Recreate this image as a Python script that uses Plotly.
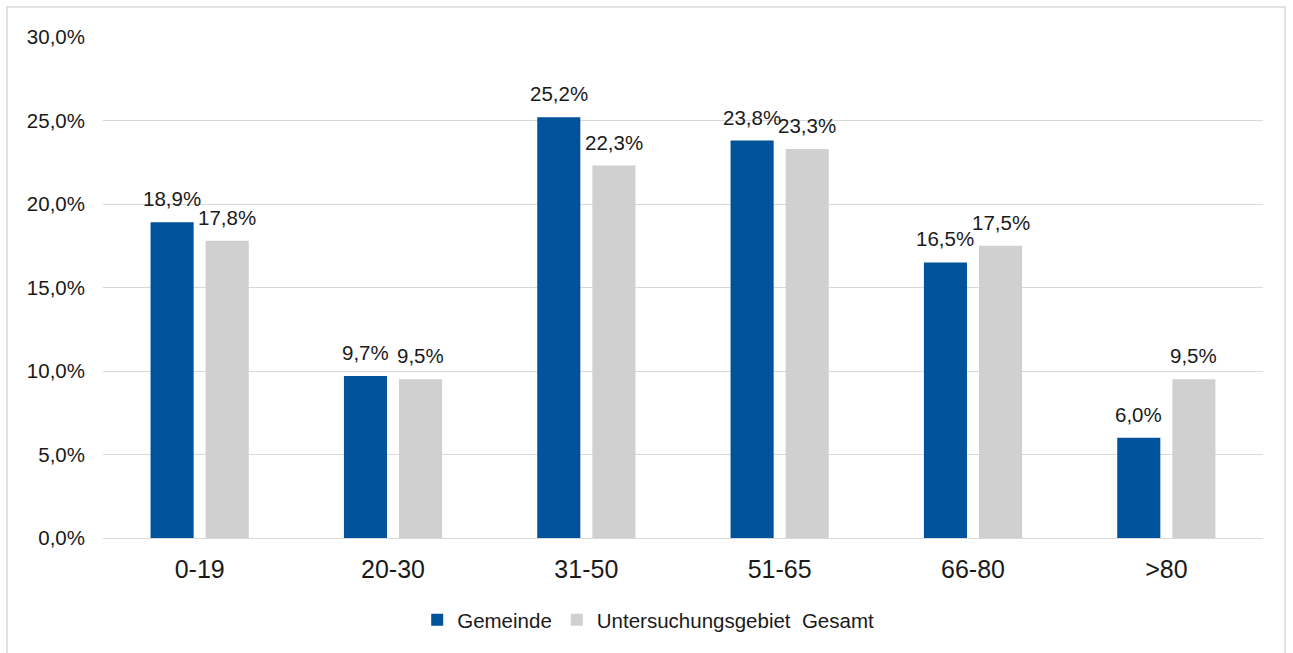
import plotly.graph_objects as go

# Age groups and population shares
categories = ["0-19", "20-30", "31-50", "51-65", "66-80", ">80"]
gemeinde = [0.189, 0.097, 0.252, 0.238, 0.165, 0.060]
gesamt = [0.178, 0.095, 0.223, 0.233, 0.175, 0.095]
y_ticks = [0, 0.05, 0.10, 0.15, 0.20, 0.25, 0.30]

BLUE = "#00539B"
GREY = "#D0D0D0"
TXT = "#1a1a1a"
FONT = "Liberation Sans, Arial, sans-serif"
LBL = 20.5

W, H = 1293, 653
L, R, T, B = 103, 30, 37, 115
pw, ph = W - L - R, H - T - B
BARGAP, GROUPGAP = 0.43, 0.218

fig = go.Figure()
series = [("Gemeinde", gemeinde, BLUE),
          ("Untersuchungsgebiet\u00a0 Gesamt", gesamt, GREY)]
for name, vals, col in series:
    fig.add_trace(go.Bar(
        name=name, x=categories, y=vals,
        marker=dict(color=col, line=dict(width=0)),
    ))

# value labels above each bar, shifted to the bar's slot within the group
slot = pw / len(categories) * (1 - BARGAP) / len(series)
for i, (name, vals, col) in enumerate(series):
    shift = (i - (len(series) - 1) / 2) * slot
    for c, v in zip(categories, vals):
        fig.add_annotation(
            x=c, y=v, xref="x", yref="y", text=f"{v * 100:.1f}%".replace(".", ","),
            showarrow=False, yanchor="bottom", xanchor="center",
            xshift=shift, yshift=10,
            font=dict(size=LBL, color=TXT, family=FONT),
        )

def px_x(p):
    return (p - L) / pw

def px_y(p):
    return 1 - (p - T) / ph

# light frame around the whole chart
fig.add_shape(type="rect", xref="paper", yref="paper",
              x0=px_x(7), x1=px_x(1285), y0=px_y(660), y1=px_y(7),
              line=dict(color="#D9D9D9", width=1.5), fillcolor="rgba(0,0,0,0)",
              layer="below")

fig.update_layout(
    width=W, height=H,
    margin=dict(l=L, r=R, t=T, b=B),
    paper_bgcolor="white", plot_bgcolor="white",
    separators=",.",
    barmode="group", bargap=BARGAP, bargroupgap=GROUPGAP,
    font=dict(family=FONT, color=TXT, size=LBL),
    showlegend=True,
    legend=dict(orientation="h", x=0.47, xanchor="center", y=px_y(620), yanchor="middle",
                font=dict(size=LBL, color=TXT, family=FONT),
                traceorder="normal"),
    xaxis=dict(showgrid=False, ticks="", showline=False, ticklabelstandoff=14,
               tickfont=dict(size=25, color=TXT, family=FONT)),
    yaxis=dict(range=[0, 0.30], tickvals=y_ticks, tickformat=".1%",
               showgrid=True, gridcolor="#D9D9D9", gridwidth=1,
               zeroline=True, zerolinecolor="#D9D9D9", zerolinewidth=1,
               ticks="", showline=False, ticklabelstandoff=17,
               tickfont=dict(size=LBL, color=TXT, family=FONT)),
)

fig.write_html("out.html")
